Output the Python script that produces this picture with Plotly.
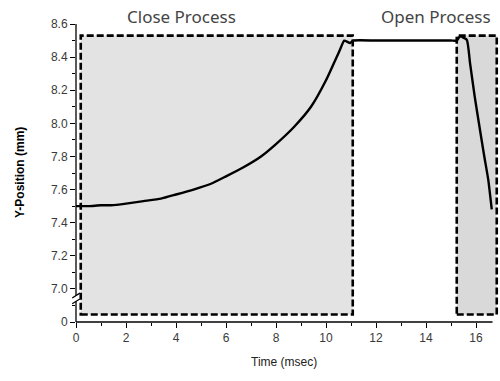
import plotly.graph_objects as go

# Y-position trace of the plunger (mm) against time (msec)
time_ms = [0.0, 0.5, 1.0, 1.4, 2.0, 2.7, 3.4, 4.0, 4.7, 5.4, 6.0, 6.7, 7.4,
           8.0, 8.7, 9.4, 10.0, 10.56, 10.73, 10.96, 11.09,
           12.0, 13.0, 14.0, 15.0, 15.23, 15.36, 15.63, 15.76, 15.95, 16.16,
           16.32, 16.49, 16.63]
y_pos_mm = [7.50, 7.50, 7.505, 7.505, 7.515, 7.53, 7.545, 7.57, 7.60, 7.635,
            7.68, 7.735, 7.80, 7.875, 7.975, 8.10, 8.26, 8.445, 8.50,
            8.485, 8.50, 8.50, 8.50, 8.50, 8.50, 8.50, 8.525,
            8.505, 8.365, 8.16, 7.96, 7.81, 7.66, 7.48]

# Process windows (msec)
process_names = ["Close Process", "Open Process"]
process_start = [0.19, 15.23]
process_end = [11.07, 16.83]
process_fill = ["#e3e3e3", "#d9d9d9"]

# Y axis ticks; the span 0 .. 7.0 is collapsed into one step below 7.0
y_tickvals = [6.8, 7.0, 7.2, 7.4, 7.6, 7.8, 8.0, 8.2, 8.4, 8.6]
y_ticktext = ["0", "7.0", "7.2", "7.4", "7.6", "7.8", "8.0", "8.2", "8.4", "8.6"]
x_tickvals = [0, 2, 4, 6, 8, 10, 12, 14, 16]

X_MAX = 16.92
Y_MIN, Y_MAX = 6.8, 8.6
BOX_BOTTOM, BOX_TOP = 6.845, 8.53
AXIS_X_END = 16.66

fig = go.Figure()

fig.add_trace(go.Scatter(
    x=time_ms, y=y_pos_mm, mode="lines",
    line=dict(color="black", width=2.4, shape="spline", smoothing=0.5),
    showlegend=False, hoverinfo="skip",
))

shapes = []
for x0, x1, fill in zip(process_start, process_end, process_fill):
    shapes.append(dict(
        type="rect", xref="x", yref="y", x0=x0, x1=x1,
        y0=BOX_BOTTOM, y1=BOX_TOP, layer="below",
        fillcolor=fill, line=dict(color="black", width=2.6, dash="7px,3px"),
    ))


def py(v):
    return (v - Y_MIN) / (Y_MAX - Y_MIN)


# x axis line
shapes.append(dict(type="line", xref="x", yref="paper", x0=0, x1=AXIS_X_END,
                   y0=0, y1=0, line=dict(color="black", width=1.3)))
# y axis line with a break just below 7.0
shapes.append(dict(type="line", xref="paper", yref="paper", x0=0, x1=0,
                   y0=0, y1=py(6.925), line=dict(color="black", width=1.3)))
shapes.append(dict(type="line", xref="paper", yref="paper", x0=0, x1=0,
                   y0=py(6.96), y1=1, line=dict(color="black", width=1.3)))
for yb in (6.925, 6.96):
    shapes.append(dict(type="line", xref="paper", yref="paper",
                       x0=-0.009, x1=0.009, y0=py(yb) - 0.008, y1=py(yb) + 0.008,
                       line=dict(color="black", width=1.2)))

tick_font = dict(family="Liberation Sans, Arial, sans-serif", size=12, color="#3a3a3a")
head_font = dict(family="Noto Sans, sans-serif", size=17, color="#444")

fig.update_layout(
    width=500, height=381,
    margin=dict(l=76, r=1, t=24, b=59),
    paper_bgcolor="white", plot_bgcolor="white",
    shapes=shapes,
    xaxis=dict(
        range=[0, X_MAX], showgrid=False, zeroline=False, showline=False,
        tickmode="array", tickvals=x_tickvals, ticks="outside", ticklen=5,
        tickwidth=1.3, tickcolor="black", tickfont=tick_font,
        minor=dict(dtick=1, tick0=0, ticks="outside", ticklen=3,
                   tickwidth=1.2, tickcolor="black"),
    ),
    yaxis=dict(
        range=[Y_MIN, Y_MAX], showgrid=False, zeroline=False, showline=False,
        tickmode="array", tickvals=y_tickvals, ticktext=y_ticktext,
        ticks="outside", ticklen=5, tickwidth=1.3, tickcolor="black",
        tickfont=tick_font,
        minor=dict(dtick=0.1, tick0=6.8, ticks="outside", ticklen=3,
                   tickwidth=1.2, tickcolor="black"),
    ),
    annotations=[
        dict(text="Y-Position (mm)", xref="paper", yref="paper",
             x=(20 - 76) / 423, y=0.5, textangle=-90, showarrow=False,
             xanchor="center", yanchor="middle",
             font=dict(family="Liberation Sans, Arial, sans-serif", size=12,
                       color="black", weight="bold")),
        dict(text="Time (msec)", xref="paper", yref="paper",
             x=(284 - 76) / 423, y=(322 - 362) / 298, showarrow=False,
             xanchor="center", yanchor="middle",
             font=dict(family="Liberation Sans, Arial, sans-serif", size=12,
                       color="#222")),
        dict(text=process_names[0], xref="paper", yref="paper",
             x=(181 - 76) / 423, y=(322 - 16) / 298, showarrow=False,
             xanchor="center", yanchor="middle", font=head_font),
        dict(text=process_names[1], xref="paper", yref="paper",
             x=(436 - 76) / 423, y=(322 - 16) / 298, showarrow=False,
             xanchor="center", yanchor="middle", font=head_font),
    ],
)

fig.write_html("out.html")
